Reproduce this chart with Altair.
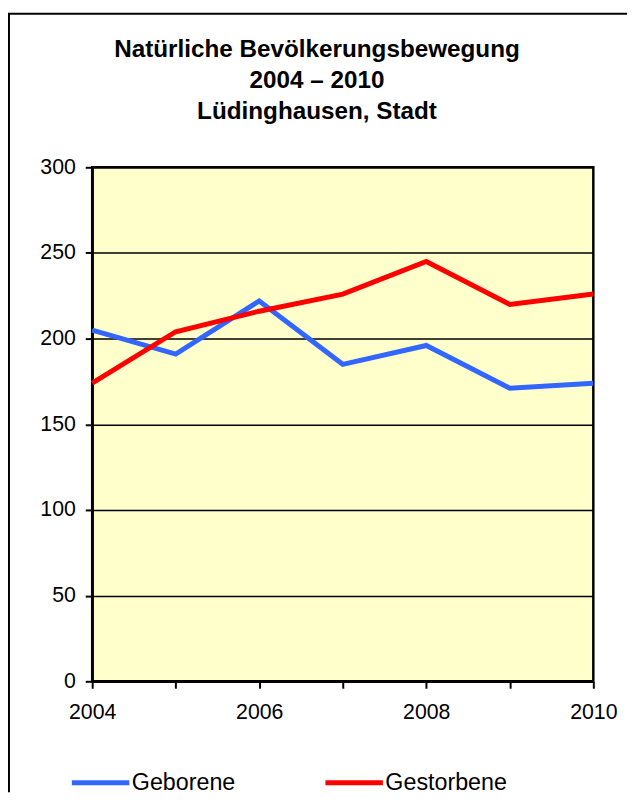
import altair as alt
import pandas as pd

years = [2004, 2005, 2006, 2007, 2008, 2009, 2010]
geborene = [205, 191, 222, 185, 196, 171, 174]
gestorbene = [174, 204, 216, 226, 245, 220, 226]
series_names = ["Geborene", "Gestorbene"]
series_colors = ["#3366FF", "#FF0000"]
y_ticks = [0, 50, 100, 150, 200, 250, 300]
title_lines = ["Natürliche Bevölkerungsbewegung", "2004 – 2010", "Lüdinghausen, Stadt"]

FONT = "Liberation Sans"

df = pd.DataFrame({
    "Jahr": years * 2,
    "Anzahl": geborene + gestorbene,
    "Reihe": [series_names[0]] * len(years) + [series_names[1]] * len(years),
})

W, H = 506, 519
PAD_L, PAD_T, PAD_R, PAD_B = 85, 157, 34, 112

lines = alt.Chart(df).mark_line(strokeWidth=5, strokeJoin="miter").encode(
    x=alt.X("Jahr:Q",
            scale=alt.Scale(domain=[2004, 2010], nice=False, zero=False),
            axis=alt.Axis(values=years, format="d", title=None, grid=False,
                          labelExpr="datum.value % 2 === 0 ? datum.label : ''",
                          tickSize=7, tickWidth=2, tickColor="black",
                          domainColor="black", domainWidth=2.5,
                          labelFontSize=21.5, labelFont=FONT, labelColor="black",
                          labelPadding=14, labelFlush=False)),
    y=alt.Y("Anzahl:Q",
            scale=alt.Scale(domain=[0, 300], nice=False),
            axis=alt.Axis(values=y_ticks, title=None, grid=True,
                          gridColor="black", gridWidth=1.5, gridOpacity=1,
                          tickSize=7, tickWidth=2, tickColor="black",
                          domainColor="black", domainWidth=2.5,
                          labelFontSize=21.5, labelFont=FONT, labelColor="black",
                          labelPadding=10, labelFlush=False)),
    color=alt.Color("Reihe:N",
                    scale=alt.Scale(domain=series_names, range=series_colors),
                    legend=alt.Legend(title=None, orient="none", direction="horizontal",
                                      legendX=-23, legendY=590,
                                      symbolType="stroke", symbolSize=3364,
                                      symbolStrokeWidth=5,
                                      labelFontSize=23.5, labelFont=FONT, labelColor="black",
                                      labelOffset=0, columnPadding=80, padding=0)),
)

title_df = pd.DataFrame({"t": ["\n".join(title_lines)]})
title_text = alt.Chart(title_df).mark_text(
    font=FONT, fontSize=24.5, fontWeight="bold", color="black",
    align="center", baseline="alphabetic", lineBreak="\n", lineHeight=31,
).encode(text="t:N", x=alt.value(227), y=alt.value(-111))

frame_df = pd.DataFrame({"k": [0]})
top_rule = alt.Chart(frame_df).mark_rule(color="black", strokeWidth=2).encode(
    x=alt.value(-PAD_L), x2=alt.value(W + PAD_R), y=alt.value(-155))
left_rule = alt.Chart(frame_df).mark_rule(color="black", strokeWidth=2).encode(
    x=alt.value(-84), y=alt.value(-155), y2=alt.value(H + PAD_B))

chart = alt.layer(lines, title_text, top_rule, left_rule).properties(
    width=W, height=H,
    autosize=alt.AutoSizeParams(type="none"),
    padding={"left": PAD_L, "top": PAD_T, "right": PAD_R, "bottom": PAD_B},
    background="white",
).configure_view(fill="#FFFFCC", stroke="black", strokeWidth=2.5)

chart.save("out.html", embed_options={"renderer": "svg", "actions": False})
